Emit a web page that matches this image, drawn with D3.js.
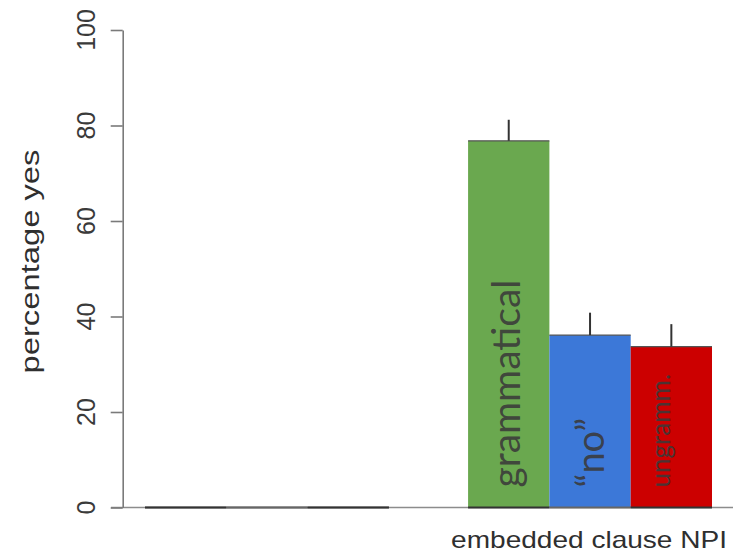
<!DOCTYPE html>
<html>
<head>
<meta charset="utf-8">
<script src="https://cdn.jsdelivr.net/npm/d3@7/dist/d3.min.js"></script>
<style>
  html, body { margin: 0; padding: 0; background: #fff; }
  svg { display: block; }
</style>
</head>
<body>
<svg id="chart" width="738" height="551"></svg>
<script>
// Percentage of "yes" answers per sentence type, two clause groups
const groups = ["matrix", "embedded clause NPI"];
const groupLabels = ["", "embedded clause NPI"];
const conditions = ["grammatical", "\u201Cno\u201D", "ungramm."];
const matrixValues = [0, 0, 0];
const embeddedValues = [76.8, 36.1, 33.7];
const matrixErrors = [0, 0, 0];
const embeddedErrors = [4.4, 4.7, 4.7];
const yTicks = [0, 20, 40, 60, 80, 100];
const colors = ["#6aa84f", "#3c78d8", "#cc0000"];

const values = [matrixValues, embeddedValues];
const errors = [matrixErrors, embeddedErrors];

const rows = [];
groups.forEach((g, gi) => {
  conditions.forEach((c, ci) => {
    rows.push({ group: g, groupIndex: gi, cond: c, condIndex: ci,
                value: values[gi][ci], err: errors[gi][ci] });
  });
});

const svg = d3.select("#chart");

const y = d3.scaleLinear().domain([0, 100]).range([507.5, 30]);
const x0 = d3.scaleBand().domain(groups).range([145, 712]).paddingInner(0.245);
const x1 = d3.scaleBand().domain(conditions).range([0, x0.bandwidth()]);
const axisX = 122.7;

// horizontal reference line at zero
svg.append("line")
  .attr("x1", 111).attr("x2", 733)
  .attr("y1", y(0)).attr("y2", y(0))
  .attr("stroke", "#8c8c8c").attr("stroke-width", 1.6);

// y axis
const yAxis = svg.append("g")
  .attr("transform", `translate(${axisX},0)`)
  .call(d3.axisLeft(y).tickValues(yTicks).tickSize(12).tickSizeOuter(0).tickFormat(""));
yAxis.select(".domain").attr("stroke", "#7a7a7a").attr("stroke-width", 1.6);
yAxis.selectAll(".tick line").attr("stroke", "#7a7a7a").attr("stroke-width", 1.6);

// rotated tick labels
svg.append("g").selectAll("text")
  .data(yTicks)
  .join("text")
  .attr("transform", d => `translate(95,${y(d)}) rotate(-90)`)
  .attr("text-anchor", "middle")
  .attr("font-family", "Liberation Sans, Arial, sans-serif")
  .attr("font-size", 25)
  .attr("fill", "#3a3a3a")
  .text(d => d);

// y title
svg.append("text")
  .attr("transform", "translate(39,261.5) rotate(-90) scale(1.26,1)")
  .attr("text-anchor", "middle")
  .attr("font-family", "Liberation Sans, Arial, sans-serif")
  .attr("font-size", 26)
  .attr("fill", "#2f2f2f")
  .text("percentage yes");

// bars
const barX = d => x0(d.group) + x1(d.cond);
const bars = svg.append("g");
bars.selectAll("rect")
  .data(rows)
  .join("rect")
  .attr("x", barX)
  .attr("y", d => y(d.value))
  .attr("width", x1.bandwidth())
  .attr("height", d => y(0) - y(d.value))
  .attr("fill", d => colors[d.condIndex]);

// bar top and bottom edges
bars.selectAll("line.top")
  .data(rows)
  .join("line")
  .attr("class", "top")
  .attr("x1", barX)
  .attr("x2", d => barX(d) + x1.bandwidth())
  .attr("y1", d => y(d.value)).attr("y2", d => y(d.value))
  .attr("stroke", "#555").attr("stroke-width", 1.3);
bars.selectAll("line.bottom")
  .data(rows)
  .join("line")
  .attr("class", "bottom")
  .attr("x1", barX)
  .attr("x2", d => barX(d) + x1.bandwidth())
  .attr("y1", y(0)).attr("y2", y(0))
  .attr("stroke", d => d.condIndex === 1 ? "#666" : "#333")
  .attr("stroke-width", 2.2);

// error bars (upper half only)
bars.selectAll("line.err")
  .data(rows.filter(d => d.err > 0))
  .join("line")
  .attr("class", "err")
  .attr("x1", d => barX(d) + x1.bandwidth() / 2)
  .attr("x2", d => barX(d) + x1.bandwidth() / 2)
  .attr("y1", d => y(d.value))
  .attr("y2", d => y(d.value + d.err))
  .attr("stroke", "#333").attr("stroke-width", 2);

// condition names written inside the embedded-clause bars
const labelStyle = {
  "grammatical": { size: 39, shift: 0.3 },
  "\u201Cno\u201D": { size: 38, shift: 0.36 },
  "ungramm.": { size: 26, shift: -0.05 }
};
bars.selectAll("text.cond")
  .data(rows.filter(d => d.groupIndex === 1))
  .join("text")
  .attr("class", "cond")
  .attr("transform", d => {
    const s = labelStyle[d.cond];
    const cx = barX(d) + x1.bandwidth() / 2 + s.shift * s.size;
    return `translate(${cx},${y(0) - 20}) rotate(-90)`;
  })
  .attr("text-anchor", "start")
  .attr("font-family", "Lato, 'Open Sans', sans-serif")
  .attr("font-size", d => labelStyle[d.cond].size)
  .attr("fill", "#3a3a3a")
  .attr("fill-opacity", 0.9)
  .text(d => d.cond);

// group labels under the axis
svg.append("g").selectAll("text")
  .data(groups)
  .join("text")
  .attr("transform", (g, i) => `translate(${x0(g) + x0.bandwidth() / 2 - 1},548) scale(1.22,1)`)
  .attr("text-anchor", "middle")
  .attr("font-family", "Liberation Sans, Arial, sans-serif")
  .attr("font-size", 23)
  .attr("fill", "#2f2f2f")
  .text((g, i) => groupLabels[i]);
</script>
</body>
</html>
